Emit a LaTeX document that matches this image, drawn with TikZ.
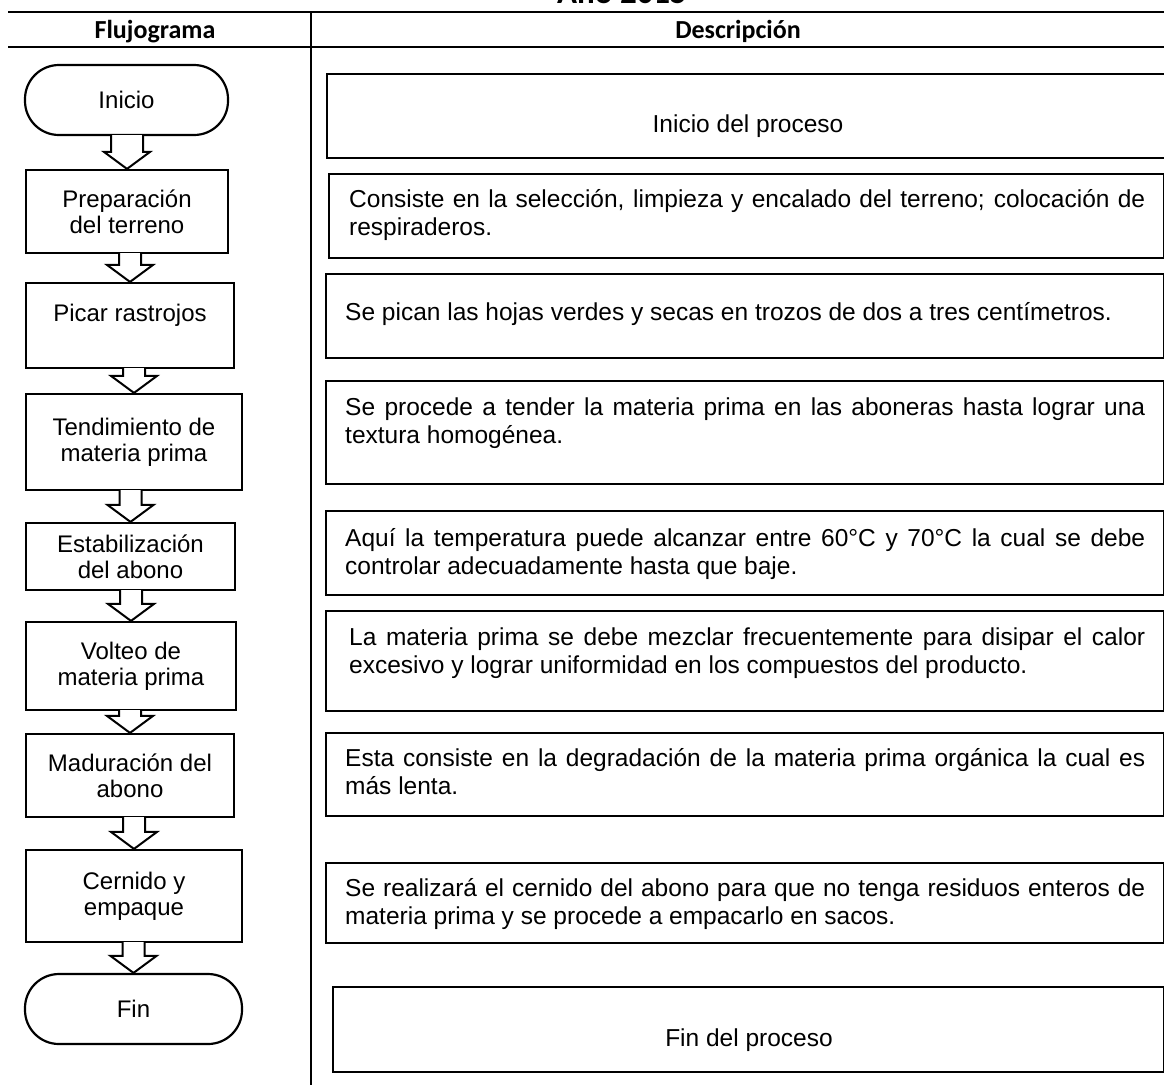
\documentclass[tikz,border=0pt]{standalone}
\usepackage{fontspec}
\setmainfont{Liberation Sans}
\newfontfamily\calibri{Carlito}
\usetikzlibrary{calc}
\tikzset{
  flowbox/.style={draw, line width=2.2pt, fill=white, align=center, inner sep=0pt,
    font=\fontsize{24}{26}\selectfont},
  termbox/.style={flowbox, rounded corners=34pt},
  descbox/.style={draw, line width=2.2pt, inner sep=0pt, anchor=north west},
  desctext/.style={inner sep=0pt, anchor=base west, align=justify,
    font=\fontsize{24.5}{28}\selectfont},
  plaintext/.style={inner sep=0pt, font=\fontsize{24.5}{28}\selectfont},
  hdr/.style={inner sep=0pt, anchor=base, font=\calibri\bfseries\fontsize{26}{28}\selectfont},
  tablerule/.style={line width=2.2pt},
  barrow/.style={draw, line width=2pt, fill=white, line join=miter},
}
\newcommand\flowarrow[3][11]{%
  \filldraw[barrow] ($(#2.south -| #3.north)+(-#1,-1)$) -- ($(#3.north)+(-#1,-17)$)
    -- ($(#3.north)+(-23,-17)$) -- (#3.north) -- ($(#3.north)+(23,-17)$)
    -- ($(#3.north)+(#1,-17)$) -- ($(#2.south -| #3.north)+(#1,-1)$);}
\begin{document}
\begin{tikzpicture}[x=1pt,y=-1pt]
\useasboundingbox (0,0) rectangle (1164,1085);
\clip (0,0) rectangle (1164,1085);
% title and header
\node[hdr, font=\calibri\bfseries\fontsize{33}{35}\selectfont] (title) at (622,3.5) {Año 2015};
\coordinate (tl) at (8,12);   \coordinate (tr) at (1164,12);
\coordinate (hl) at (8,47);   \coordinate (hr) at (1164,47);
\coordinate (vt) at (311,12); \coordinate (vb) at (311,1085);
\draw[tablerule] (tl) -- (tr);
\draw[tablerule] (hl) -- (hr);
\draw[line width=2pt] (vt) -- (vb);
\node[hdr] (h1) at (155,38.5) {Flujograma};
\node[hdr] (h2) at (738,38.5) {Descripción};
% flowchart
\node[termbox, minimum width=203pt, minimum height=70pt] (n1) at (126.5,100) {Inicio};
\node[flowbox, minimum width=202pt, minimum height=83pt] (n2) at (127,211.5) {Preparación\\del terreno};
\node[flowbox, minimum width=208pt, minimum height=85pt] (n3) at (130,325.5) {Picar rastrojos\\\mbox{}};
\node[flowbox, minimum width=216pt, minimum height=96pt] (n4) at (134,442) {Tendimiento de\\materia prima};
\node[flowbox, minimum width=209pt, minimum height=67pt] (n5) at (130.5,556.5) {Estabilización\\del abono};
\node[flowbox, minimum width=210pt, minimum height=88pt] (n6) at (131,666) {Volteo de\\materia prima};
\node[flowbox, minimum width=208pt, minimum height=83pt] (n7) at (130,775.5) {Maduración del\\abono};
\node[flowbox, minimum width=216pt, minimum height=92pt] (n8) at (134,896) {Cernido y\\empaque};
\node[termbox, minimum width=217pt, minimum height=70pt] (n9) at (133.5,1009) {Fin};
\flowarrow[16]{n1}{n2}
\flowarrow{n2}{n3}
\flowarrow{n3}{n4}
\flowarrow{n4}{n5}
\flowarrow{n5}{n6}
\flowarrow{n6}{n7}
\flowarrow{n7}{n8}
\flowarrow{n8}{n9}
% descriptions
\node[descbox, minimum width=844pt, minimum height=84pt] (d1) at (326,73) {};
\node[plaintext] (t1) at (748,126) {Inicio del proceso};
\node[descbox, minimum width=835pt, minimum height=84pt] (d2) at (328,173) {};
\node[desctext, text width=796pt] (t2) at (349,207) {Consiste en la selección, limpieza y encalado del terreno; colocación de\linebreak respiraderos.};
\node[descbox, minimum width=838pt, minimum height=84pt] (d3) at (325,273) {};
\node[desctext, text width=800pt] (t3) at (345,320) {Se pican las hojas verdes y secas en trozos de dos a tres centímetros.};
\node[descbox, minimum width=838pt, minimum height=103pt] (d4) at (325,380) {};
\node[desctext, text width=800pt] (t4) at (345,415) {Se procede a tender la materia prima en las aboneras hasta lograr una\linebreak textura homogénea.};
\node[descbox, minimum width=838pt, minimum height=84pt] (d5) at (325,510) {};
\node[desctext, text width=800pt] (t5) at (345,546) {Aquí la temperatura puede alcanzar entre 60°C y 70°C la cual se debe\linebreak controlar adecuadamente hasta que baje.};
\node[descbox, minimum width=838pt, minimum height=100pt] (d6) at (325,610) {};
\node[desctext, text width=796pt] (t6) at (349,645) {La materia prima se debe mezclar frecuentemente para disipar el calor\linebreak excesivo y lograr uniformidad en los compuestos del producto.};
\node[descbox, minimum width=838pt, minimum height=83pt] (d7) at (325,732) {};
\node[desctext, text width=800pt] (t7) at (345,766) {Esta consiste en la degradación de la materia prima orgánica la cual es\linebreak más lenta.};
\node[descbox, minimum width=838pt, minimum height=80pt] (d8) at (325,862) {};
\node[desctext, text width=800pt] (t8) at (345,896) {Se realizará el cernido del abono para que no tenga residuos enteros de\linebreak materia prima y se procede a empacarlo en sacos.};
\node[descbox, minimum width=831pt, minimum height=85pt] (d9) at (332,986) {};
\node[plaintext] (t9) at (749,1040) {Fin del proceso};
\end{tikzpicture}
\end{document}
